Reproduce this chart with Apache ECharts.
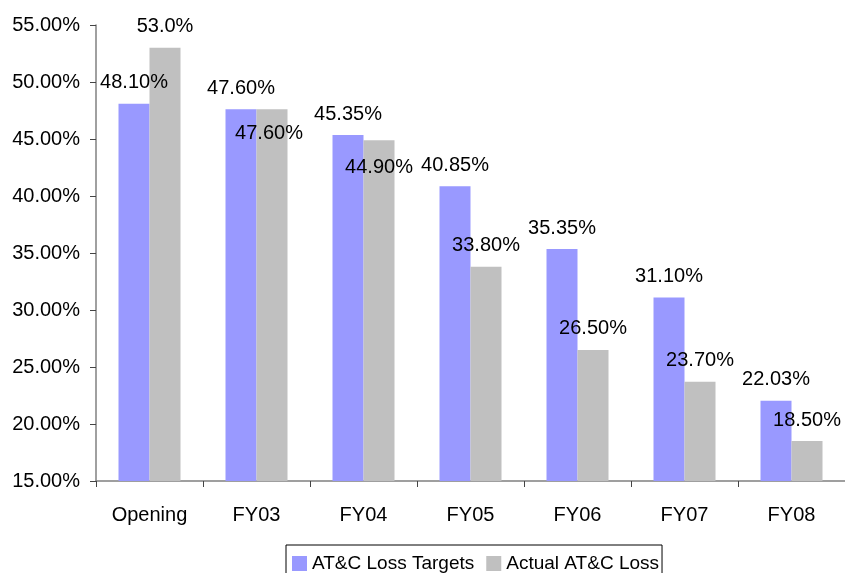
<!DOCTYPE html>
<html>
<head>
<meta charset="utf-8">
<script src="https://cdn.jsdelivr.net/npm/echarts@6/dist/echarts.min.js"></script>
<style>
html,body{margin:0;padding:0;background:#fff;}
#chart{width:845px;height:573px;}
</style>
</head>
<body>
<div id="chart"></div>
<script>
var categories = ['Opening', 'FY03', 'FY04', 'FY05', 'FY06', 'FY07', 'FY08'];
var targets = [48.10, 47.60, 45.35, 40.85, 35.35, 31.10, 22.03];
var actual = [53.0, 47.60, 44.90, 33.80, 26.50, 23.70, 18.50];
var yTicks = { min: 15, max: 55, interval: 5 };
var seriesNames = ['AT&C Loss Targets', 'Actual AT&C Loss'];

var FONT = 'Liberation Sans, Arial, sans-serif';
var chart = echarts.init(document.getElementById('chart'));

var actualData = actual.map(function (v, i) {
  var d = { value: v };
  if (i === 1) d.label = { offset: [-3, 45] };
  if (i === 2) d.label = { offset: [0, 48] };
  return d;
});

chart.setOption({
  animation: false,
  textStyle: { fontFamily: FONT },
  grid: { left: 96, top: 25, bottom: 92, width: 756, containLabel: false },
  legend: {
    left: 286, top: 545,
    padding: [9, 3, 12, 6],
    itemWidth: 15, itemHeight: 15, itemGap: 12,
    borderColor: '#000', borderWidth: 1,
    icon: 'rect',
    textStyle: { fontFamily: FONT, fontSize: 19, color: '#000' },
    data: seriesNames
  },
  xAxis: {
    type: 'category',
    data: categories,
    axisLine: { lineStyle: { color: '#808080', width: 1.5 } },
    axisTick: { show: true, length: 6, alignWithLabel: false, lineStyle: { color: '#444' } },
    axisLabel: { color: '#000', fontSize: 20, fontFamily: FONT, margin: 24 }
  },
  yAxis: {
    type: 'value',
    min: yTicks.min, max: yTicks.max, interval: yTicks.interval,
    axisLine: { show: true, lineStyle: { color: '#808080', width: 1.5 } },
    axisTick: { show: true, length: 6, lineStyle: { color: '#444' } },
    splitLine: { show: false },
    axisLabel: {
      color: '#000', fontSize: 20, fontFamily: FONT, margin: 16,
      formatter: function (v) { return v.toFixed(2) + '%'; }
    }
  },
  series: [
    {
      name: seriesNames[0], type: 'bar', data: targets,
      barWidth: 31, barGap: '0%',
      itemStyle: { color: '#9999FF' },
      label: {
        show: true, position: 'top', distance: 11,
        color: '#000', fontSize: 20, fontFamily: FONT,
        formatter: function (p) { return p.value.toFixed(2) + '%'; }
      }
    },
    {
      name: seriesNames[1], type: 'bar', data: actualData,
      barWidth: 31, barGap: '0%',
      itemStyle: { color: '#C0C0C0' },
      label: {
        show: true, position: 'top', distance: 11,
        color: '#000', fontSize: 20, fontFamily: FONT,
        formatter: function (p) { return p.dataIndex === 0 ? p.value.toFixed(1) + '%' : p.value.toFixed(2) + '%'; }
      }
    }
  ]
});
</script>
</body>
</html>
